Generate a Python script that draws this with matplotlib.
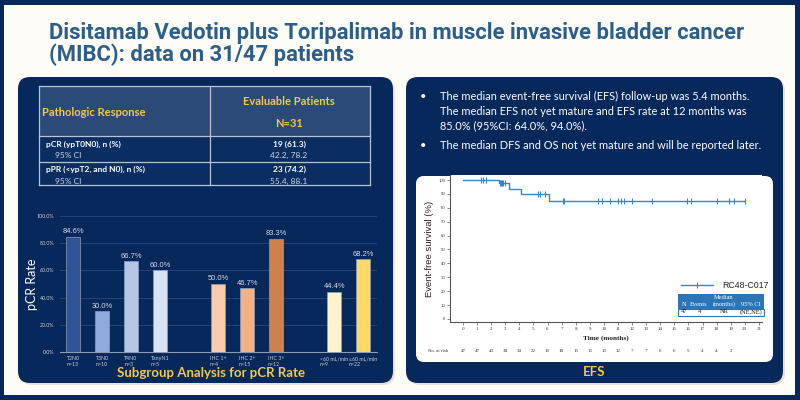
import matplotlib
matplotlib.use('Agg')
import matplotlib.pyplot as plt
from matplotlib.patches import FancyBboxPatch, Rectangle
from matplotlib.lines import Line2D
import matplotlib.transforms as mtransforms
import numpy as np

# ---------------- data ----------------
title_line1 = "Disitamab Vedotin plus Toripalimab in muscle invasive bladder cancer"
title_line2 = "(MIBC): data on 31/47 patients"

subgroups = ["T2N0", "T3N0", "T4N0", "TanyN1", "IHC 1+", "IHC 2+", "IHC 3+",
             "<60 mL/min", "≥60 mL/min"]
subgroup_n = [13, 10, 3, 5, 4, 15, 12, 9, 22]
pcr_rate = [84.6, 30.0, 66.7, 60.0, 50.0, 46.7, 83.3, 44.4, 68.2]
bar_slots = [0, 1, 2, 3, 5, 6, 7, 9, 10]
bar_colors = ["#2f5597", "#8faadc", "#b4c7e7", "#dae3f3",
              "#f8cbad", "#f4b183", "#d0804a", "#fff2cc", "#ffd966"]
bar_yticks = [0, 20, 40, 60, 80, 100]

table_rows = [("pCR (ypT0N0), n (%)", "19 (61.3)", "42.2, 78.2"),
              ("pPR (<ypT2, and N0), n (%)", "23 (74.2)", "55.4, 88.1")]

bullets = [["The median event-free survival (EFS) follow-up was 5.4 months.",
            "The median EFS not yet mature and EFS rate at 12 months was",
            "85.0% (95%CI: 64.0%, 94.0%)."],
           ["The median DFS and OS not yet mature and will be reported later."]]

km_step_times = [0, 2.55, 3.3, 4.1, 6.1, 20.0]
km_step_surv = [100, 97.6, 93.5, 90.0, 85.0, 85.0]
censor_times = [1.26, 1.40, 1.61, 2.62, 2.7, 2.78, 2.86, 2.95, 5.3, 5.5, 5.8,
                7.07, 7.14, 9.6, 9.9, 10.4, 11.0, 11.25, 11.4, 12.0, 13.4,
                15.9, 16.15, 18.0, 18.9, 19.2, 20.0]
km_xticks = list(range(22))
km_yticks = list(range(0, 101, 10))
at_risk_months = list(range(20))
at_risk = [47, 47, 43, 38, 34, 22, 19, 18, 15, 15, 13, 12, 7, 7, 6, 6, 5, 4, 4, 2]
km_table_header = ["N", "Events", "(months)", "95% CI"]
km_table_values = ["47", "4", "NR", "(NE,NE)"]

# ---------------- style ----------------
NAVY = "#07285a"
NAVY_HDR = "#2c4a77"
YELLOW = "#f2c94c"
TITLE_C = "#2d5e88"
KM_C = "#3388c0"
BG = "#fdfcf6"

W, H = 800, 400
fig = plt.figure(figsize=(8, 4), dpi=100, facecolor=BG)


def fx(x):
    return x / W


def fy(y):
    return 1 - y / H


def rrect(x0, y0, x1, y1, color, r=10, z=-5, ec="none", lw=0):
    p = FancyBboxPatch((x0 / 100, (H - y1) / 100), (x1 - x0) / 100, (y1 - y0) / 100,
                       boxstyle=f"round,pad=0,rounding_size={r/100}",
                       transform=fig.dpi_scale_trans, facecolor=color,
                       edgecolor=ec, linewidth=lw, zorder=z)
    fig.add_artist(p)


def rect(x0, y0, x1, y1, color, z=-4, ec="none", lw=0):
    p = Rectangle((fx(x0), fy(y1)), fx(x1) - fx(x0), fy(y0) - fy(y1),
                  transform=fig.transFigure, facecolor=color, edgecolor=ec,
                  linewidth=lw, zorder=z)
    fig.add_artist(p)


# frame
rect(0, 0, 800, 5, NAVY, z=-8)
rect(0, 0, 4, 400, NAVY, z=-8)
rect(795, 0, 800, 400, NAVY, z=-8)
rect(0, 395, 800, 400, NAVY, z=-8)

# title
fig.text(fx(49), fy(39), title_line1, fontsize=15.8, fontweight="bold",
         family="Roboto", color=TITLE_C, va="baseline", ha="left")
fig.text(fx(49), fy(61), title_line2, fontsize=15.8, fontweight="bold",
         family="Roboto", color=TITLE_C, va="baseline", ha="left")

# panels (with subtle shadows)
rrect(20, 79, 395, 385, "#e6e3da", r=12, z=-7)
rrect(18, 77, 393, 383, NAVY, r=12, z=-6)
rrect(408, 79, 785, 385, "#e6e3da", r=12, z=-7)
rrect(406, 77, 783, 383, NAVY, r=12, z=-6)
rrect(416, 176, 773, 362, "white", r=8, z=-5)

# ---------------- left table ----------------
tx0, tx1, tmid = 39, 370, 210
ty0, thdr, trow, ty1 = 86, 136, 161.7, 185
rect(tx0, ty0, tx1, thdr, NAVY_HDR)
rect(tx0, thdr, tx1, ty1, "#0a2d62")
line_c = "#b8c2d0"
for (xa, ya, xb, yb) in [(tx0, ty0, tx1, ty0), (tx0, thdr, tx1, thdr), (tx0, trow, tx1, trow),
                         (tx0, ty1, tx1, ty1), (tx0, ty0, tx0, ty1), (tx1, ty0, tx1, ty1),
                         (tmid, ty0, tmid, ty1)]:
    fig.add_artist(Line2D([fx(xa), fx(xb)], [fy(ya), fy(yb)], color=line_c, lw=0.9,
                          transform=fig.transFigure, zorder=-3))
fig.text(fx(42), fy(112), "Pathologic Response", fontsize=8, fontweight="bold",
         family="Lato", color=YELLOW, va="center", ha="left")
fig.text(fx(289), fy(101.5), "Evaluable Patients", fontsize=8, fontweight="bold",
         family="Lato", color=YELLOW, va="center", ha="center")
fig.text(fx(289), fy(123.5), "N=31", fontsize=8, fontweight="bold",
         family="Lato", color=YELLOW, va="center", ha="center")
for i, (lab, val, ci) in enumerate(table_rows):
    yb = 144 + i * 25.5
    fig.text(fx(46), fy(yb), lab, fontsize=6, fontweight="bold", family="Lato",
             color="white", va="center", ha="left")
    fig.text(fx(55), fy(yb + 11.5), "95% CI", fontsize=6, family="Lato",
             color="#d0d6e0", va="center", ha="left")
    fig.text(fx(289), fy(yb), val, fontsize=6, fontweight="bold", family="Lato",
             color="white", va="center", ha="center")
    fig.text(fx(289), fy(yb + 11.5), ci, fontsize=6, family="Lato",
             color="#d0d6e0", va="center", ha="center")

# ---------------- bar chart ----------------
ax1 = fig.add_axes([fx(60), fy(352), (377 - 60) / W, (352 - 216) / H])
ax1.set_facecolor("none")
ax1.bar(bar_slots, pcr_rate, width=0.5, color=bar_colors, edgecolor="#8da0bf",
        linewidth=0.5, zorder=3)
for xs, v in zip(bar_slots, pcr_rate):
    ax1.text(xs, v + 1.2, f"{v:.1f}%", ha="center", va="bottom", fontsize=5.4,
             family="Liberation Sans", color="#d9dde5", zorder=4)
ax1.set_xlim(-0.45, 10.48)
ax1.set_ylim(0, 100)
ax1.set_yticks(bar_yticks)
ax1.set_yticklabels([f"{t:.1f}%" for t in bar_yticks], fontsize=3.8,
                    color="#c9cfdb", family="Lato")
ax1.tick_params(axis="y", length=0, pad=4)
ax1.set_xticks(bar_slots)
ax1.set_xticklabels([f"{s}\nn={n}" for s, n in zip(subgroups, subgroup_n)],
                    fontsize=3.8, color="#c9cfdb", family="Lato", linespacing=1.3)
ax1.tick_params(axis="x", length=0, pad=3)
for lab in ax1.get_xticklabels():
    lab.set_multialignment("left")
for s in ["top", "right", "left"]:
    ax1.spines[s].set_visible(False)
ax1.spines["bottom"].set_color("#8f9bb0")
ax1.spines["bottom"].set_linewidth(0.8)
ax1.grid(axis="y", color="#2a4a7a", linewidth=0.6, zorder=0)
ax1.set_axisbelow(True)
ax1.set_ylabel("pCR Rate", fontsize=9, color="white", family="Lato")
ax1.yaxis.set_label_coords(fx(38), 0.5,
                           transform=mtransforms.blended_transform_factory(fig.transFigure,
                                                                           ax1.transAxes))

fig.text(fx(211), fy(373), "Subgroup Analysis for pCR Rate", fontsize=9.5,
         fontweight="bold", family="Lato", color=YELLOW, ha="center", va="center")

# ---------------- right bullets ----------------
yline = 100.5
for block in bullets:
    fig.text(fx(423), fy(yline), "•", fontsize=8, color="white", family="Lato",
             ha="center", va="baseline")
    for ln in block:
        fig.text(fx(440.5), fy(yline), ln, fontsize=7.9, color="white", family="Lato",
                 ha="left", va="baseline")
        yline += 14.3
    yline += 6

# ---------------- KM plot ----------------
ax2 = fig.add_axes([fx(450), fy(322), (761.7 - 450) / W, (322 - 175) / H])
ax2.set_facecolor("white")
ax2.step(km_step_times, km_step_surv, where="post", color=KM_C, lw=1.0, zorder=3)
cens_y = [km_step_surv[np.searchsorted(km_step_times, t, side="right") - 1]
          for t in censor_times]
ax2.plot(censor_times, cens_y, ls="none", marker="|", ms=4, mew=0.8, color=KM_C, zorder=4)
ax2.set_xlim(-0.92, 21.2)
ax2.set_ylim(-2.2, 103.6)
ax2.set_xticks(km_xticks)
ax2.set_xticklabels([str(t) for t in km_xticks], fontsize=3.6, family="Liberation Serif",
                    color="#333333")
ax2.set_yticks(km_yticks)
ax2.set_yticklabels([str(t) for t in km_yticks], fontsize=3.4, family="Liberation Serif",
                    color="#333333")
ax2.tick_params(length=2, width=0.5, pad=1.5, color="#555555")
for s in ["top", "right"]:
    ax2.spines[s].set_visible(False)
for s in ["left", "bottom"]:
    ax2.spines[s].set_color("#555555")
    ax2.spines[s].set_linewidth(0.8)
ax2.set_ylabel("Event-free survival (%)", fontsize=6.8, family="Liberation Sans",
               color="#222222")
ax2.yaxis.set_label_coords(fx(434), 0.5,
                           transform=mtransforms.blended_transform_factory(fig.transFigure,
                                                                           ax2.transAxes))
ax2.set_xlabel("Time (months)", fontsize=5.2, family="Liberation Serif",
               fontweight="bold", color="#222222", labelpad=3)

trans = mtransforms.blended_transform_factory(ax2.transData, fig.transFigure)
fig.text(fx(428), fy(351), "No. at risk", fontsize=3.4, family="Liberation Serif",
         color="#333333", ha="left", va="center")
for m, n in zip(at_risk_months, at_risk):
    ax2.text(m, fy(351), str(n), transform=trans, fontsize=3.6, family="Liberation Serif",
             color="#333333", ha="center", va="center", clip_on=False)

# legend
fig.add_artist(Line2D([fx(681), fx(713)], [fy(285), fy(285)], color=KM_C, lw=1.0,
                      transform=fig.transFigure))
fig.add_artist(Line2D([fx(697)], [fy(285)], color=KM_C, marker="|", ms=4, mew=0.8,
                      transform=fig.transFigure))
fig.text(fx(722), fy(285), "RC48-C017", fontsize=6.3, family="Liberation Sans",
         color="#222222", ha="left", va="center")

# KM summary table
rect(678, 294, 764, 308.5, "#2e75b6", z=5)
rect(678, 308.5, 764, 315.5, "white", z=5, ec="#2e75b6", lw=0.8)
fig.text(fx(724), fy(297.5), "Median", fontsize=4.6, family="Liberation Serif",
         color="white", ha="center", va="center", zorder=6)
for xx, h, v in zip([684, 699, 724, 751], km_table_header, km_table_values):
    fig.text(fx(xx), fy(304.3), h, fontsize=4.6, family="Liberation Serif",
             color="white", ha="center", va="center", zorder=6)
    fig.text(fx(xx), fy(311.8), v, fontsize=4.6, family="Liberation Serif",
             color="#222222", ha="center", va="center", zorder=6)

fig.text(fx(594), fy(372.5), "EFS", fontsize=9.5, fontweight="bold", family="Lato",
         color=YELLOW, ha="center", va="center")

fig.savefig("out.png", dpi=100, facecolor=BG)
